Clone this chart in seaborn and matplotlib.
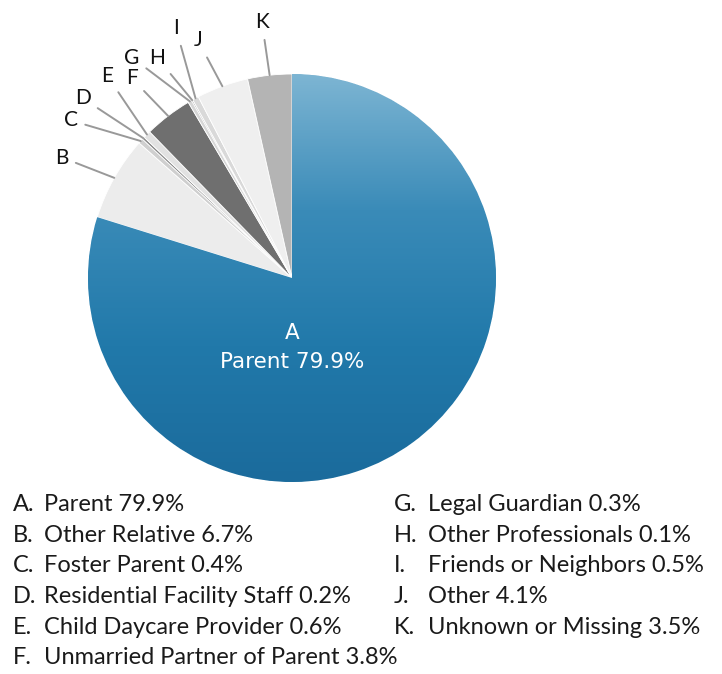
import numpy as np
import matplotlib
matplotlib.use("Agg")
import matplotlib.pyplot as plt
import seaborn as sns
from matplotlib.colors import LinearSegmentedColormap

# perpetrator relationship to victim
letters = ["A", "B", "C", "D", "E", "F", "G", "H", "I", "J", "K"]
categories = ["Parent", "Other Relative", "Foster Parent", "Residential Facility Staff",
              "Child Daycare Provider", "Unmarried Partner of Parent", "Legal Guardian",
              "Other Professionals", "Friends or Neighbors", "Other", "Unknown or Missing"]
percents = [79.9, 6.7, 0.4, 0.2, 0.6, 3.8, 0.3, 0.1, 0.5, 4.1, 3.5]

slice_colors = ["#2179aa", "#ececec", "#cfcfcf", "#8a8a8a", "#e2e2e2", "#6f6f6f",
                "#d6d6d6", "#8c8c8c", "#d9d9d9", "#efefef", "#b4b4b4"]

# where the letters of the small slices sit (pixel centres, y from top)
label_pos = {"B": (62, 156), "C": (71, 119), "D": (83, 97), "E": (107, 74),
             "F": (132, 77), "G": (132, 56), "H": (157, 56), "I": (176, 27),
             "J": (198, 39), "K": (262, 21)}

sns.set_theme(style="white")
plt.rcParams["font.family"] = ["Lato", "DejaVu Sans"]

W, H = 722, 674
fig = plt.figure(figsize=(7.22, 6.74), dpi=100)
ax = fig.add_axes([0, 0, 1, 1])

cx, cy, r = 292, H - 278, 204
wedges, _ = ax.pie(percents, colors=slice_colors, startangle=90, counterclock=False,
                   center=(cx, cy), radius=r,
                   wedgeprops=dict(edgecolor="white", linewidth=0.6))

# light-to-dark blue shading on the big slice
grad = np.linspace(0, 1, 256).reshape(-1, 1)
blues = LinearSegmentedColormap.from_list("b", ["#7db5d3", "#3a8bb8", "#2179aa", "#1b6b9c"])
im = ax.imshow(grad, cmap=blues, extent=(cx - r, cx + r, cy - r, cy + r),
               origin="upper", aspect="auto", zorder=wedges[0].get_zorder() + 0.1)
im.set_clip_path(wedges[0])

ax.set_xlim(0, W)
ax.set_ylim(0, H)
ax.set_aspect("equal")
ax.axis("off")

ax.text(cx, H - 339, "A", color="white", ha="center", va="baseline",
        fontsize=15.5, family="DejaVu Sans")
ax.text(cx, H - 368, f"{categories[0]} {percents[0]}%", color="white", ha="center",
        va="baseline", fontsize=15.5, family="DejaVu Sans")

total = sum(percents)
start = 0
for let, p in zip(letters, percents):
    mid = 90 - 360 * (start + p / 2) / total
    start += p
    if let not in label_pos:
        continue
    ex = cx + r * np.cos(np.radians(mid))
    ey = cy + r * np.sin(np.radians(mid))
    lx, ly = label_pos[let]
    ax.annotate(let, xy=(ex, ey), xytext=(lx, H - ly - 7.5), ha="center", va="baseline",
                fontsize=15, color="#111111",
                arrowprops=dict(arrowstyle="-", color="#999999", lw=1.4,
                                shrinkA=3, shrinkB=0))

# legend in two columns
for i, (let, cat, p) in enumerate(zip(letters, categories, percents)):
    if i < 6:
        lx, tx, y = 13, 44, 511 + 30.7 * i
    else:
        lx, tx, y = 394, 428, 511 + 30.7 * (i - 6)
    ax.text(lx, H - y, let + ".", ha="left", va="baseline", fontsize=17, color="#1a1a1a")
    ax.text(tx, H - y, f"{cat} {p}%", ha="left", va="baseline", fontsize=17, color="#1a1a1a")

fig.savefig("out.png", dpi=100)
